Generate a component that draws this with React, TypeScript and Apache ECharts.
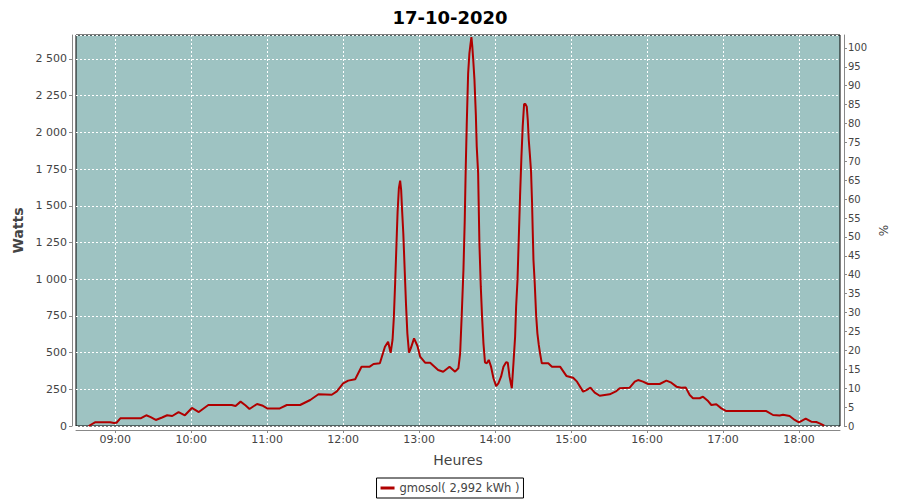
import React, { useEffect, useRef } from "react";
import * as echarts from "echarts";

const chartTitle = "17-10-2020";
const seriesName = "gmosol( 2,992 kWh )";
const xAxisName = "Heures";
const yAxisName = "Watts";
const y2AxisName = "%";

// hour ticks, minutes since midnight (09:00 ... 18:00)
const hourTicks = [540, 600, 660, 720, 780, 840, 900, 960, 1020, 1080];

// sample times (minutes since midnight)
const times = [
  519, 524, 536, 539, 541, 544, 560, 564.5, 568, 572, 577, 581, 585, 590, 595, 600.5, 606, 613.5, 632, 635,
  639, 643, 646, 652, 656, 660, 670, 675.5, 686, 694, 700.5, 711, 715, 720, 724, 729.5, 734.5, 741, 744, 749,
  753, 755.5, 757.5, 759, 760, 761, 762.4, 763, 764, 765, 765.8, 766.6, 767.5, 768.6, 769.6, 770.7, 772, 773.4, 776, 778.7,
  780.8, 784.7, 788.7, 795, 799, 804, 808.4, 811, 812.4, 813.7, 815, 816, 816.8, 817.6, 818.7, 819.7, 820.5, 821.3, 822, 822.9,
  823.7, 824.8, 825.5, 826.6, 827.6, 828.7, 829.7, 830.8, 832, 833.4, 835, 836.8, 838.7, 840.8, 842.6, 844.7, 846.6, 848.7,
  850, 851.4, 853.2, 854.5, 855.8, 856.6, 857.7, 858.7, 859.7, 860.8, 861.8, 862.9, 863.9, 865, 865.8, 866.6, 867.4, 868.4,
  869.2, 869.7, 870.3, 871.3, 872.4, 873.4, 874.5, 875.5, 876.9, 882, 884.9, 891.3, 896.3, 901.6, 904.7, 909.5, 912.1, 915.3,
  918.7, 922.6, 930.5, 935.8, 938.4, 946.3, 950.3, 952.9, 956.8, 960.8, 970, 975.3, 979.2, 983.2, 987.1, 990.5, 993.7, 996.3,
  1001.6, 1004.2, 1008.2, 1010.8, 1014.7, 1018.7, 1022.6, 1054.2, 1059.5, 1064.7, 1067.4, 1072.6, 1076.6, 1080, 1085.3, 1089.7,
  1093.7, 1096.3, 1100,
];

// power in watts
const watts = [
  0, 25, 25, 20, 22, 52, 52, 73, 60, 41, 58, 73, 68, 95, 73, 123, 95, 143, 143, 136,
  166, 140, 116, 150, 140, 120, 120, 143, 143, 177, 216, 213, 236, 291, 309, 318, 404, 404, 422, 427,
  540, 574, 499, 586, 734, 960, 1313, 1460, 1619, 1671, 1608, 1460, 1313, 1063, 836, 631, 499, 529, 597, 545,
  472, 431, 431, 381, 370, 404, 370, 393, 495, 768, 1063, 1392, 1755, 2050, 2402, 2538, 2595, 2648, 2585, 2471,
  2357, 2119, 1903, 1721, 1245, 949, 745, 563, 434, 427, 450, 404, 325, 272, 291, 336, 404, 434,
  431, 336, 257, 427, 608, 813, 994, 1279, 1562, 1835, 2039, 2193, 2193, 2175, 2084, 1948, 1857, 1732,
  1517, 1335, 1131, 972, 756, 631, 552, 495, 427, 427, 404, 404, 341, 329, 302, 234, 245, 261,
  227, 206, 216, 238, 257, 261, 302, 313, 302, 286, 286, 309, 295, 268, 261, 263, 211, 189,
  189, 200, 170, 143, 148, 120, 102, 102, 75, 72, 77, 68, 41, 25, 50, 29,
  27, 18, 2,
];

const fmtThousands = (v: number) =>
  String(Math.round(v)).replace(/\B(?=(\d{3})+(?!\d))/g, " ");
const fmtTime = (m: number) => {
  const h = Math.floor(m / 60);
  const mm = Math.round(m - h * 60);
  return `${String(h).padStart(2, "0")}:${String(mm).padStart(2, "0")}`;
};

export default function App() {
  const ref = useRef<HTMLDivElement>(null);
  useEffect(() => {
    const chart = echarts.init(ref.current!, null, { renderer: "svg" });
    const axisGray = "#888";
    const labelColor = "#444";
    chart.setOption({
      animation: false,
      backgroundColor: "#fff",
      textStyle: { fontFamily: "DejaVu Sans" },
      title: {
        text: chartTitle,
        left: "center",
        top: 3,
        textStyle: { fontSize: 18, fontWeight: "bold", color: "#000", fontFamily: "DejaVu Sans" },
      },
      legend: {
        bottom: 2,
        left: "center",
        data: [seriesName],
        icon: "rect",
        itemWidth: 14,
        itemHeight: 3,
        itemGap: 4,
        borderColor: "#000",
        borderWidth: 1,
        borderRadius: 0,
        padding: [4, 4, 4, 4],
        textStyle: { fontSize: 11.5, color: "#444" },
      },
      grid: {
        left: 76,
        right: 60,
        top: 35,
        bottom: 74,
        show: true,
        backgroundColor: "#9ec3c2",
        borderColor: "#000",
        borderWidth: 1,
      },
      xAxis: {
        type: "value",
        min: 509,
        max: 1112.4,
        offset: 4,
        name: xAxisName,
        nameLocation: "middle",
        nameGap: 23,
        nameTextStyle: { fontSize: 14, color: labelColor },
        axisLine: { show: true, onZero: false, lineStyle: { color: axisGray } },
        axisTick: { show: true, length: 3, customValues: hourTicks, lineStyle: { color: axisGray } },
        axisLabel: { customValues: hourTicks, formatter: fmtTime, fontSize: 11, color: labelColor, margin: 4 },
        splitLine: { show: true, lineStyle: { color: "#fff", type: [2, 2], width: 1 } },
      },
      yAxis: [
        {
          type: "value",
          position: "left",
          min: 0,
          max: 2663,
          interval: 250,
          offset: 4,
          name: yAxisName,
          nameLocation: "middle",
          nameGap: 40,
          nameRotate: 90,
          nameTextStyle: { fontSize: 14, fontWeight: "bold", color: labelColor },
          axisLine: { show: true, lineStyle: { color: axisGray } },
          axisTick: { show: true, length: 3, lineStyle: { color: axisGray } },
          axisLabel: {
            fontSize: 11,
            color: labelColor,
            margin: 5,
            showMaxLabel: false,
            formatter: (v: number) => (v % 250 === 0 ? fmtThousands(v) : ""),
          },
          splitLine: { show: true, lineStyle: { color: "#fff", type: [2, 2], width: 1 } },
        },
        {
          type: "value",
          position: "right",
          min: 0,
          max: 103.4,
          interval: 5,
          offset: 4,
          name: y2AxisName,
          nameLocation: "middle",
          nameGap: 30,
          nameRotate: 90,
          nameTextStyle: { fontSize: 12, color: labelColor },
          axisLine: { show: true, lineStyle: { color: axisGray } },
          axisTick: { show: true, length: 3, lineStyle: { color: axisGray } },
          axisLabel: {
            fontSize: 10,
            color: labelColor,
            margin: 4,
            showMaxLabel: false,
            formatter: (v: number) => (Number.isInteger(v) && v % 5 === 0 ? String(v) : ""),
          },
          splitLine: { show: false },
        },
      ],
      series: [
        {
          type: "line",
          name: seriesName,
          yAxisIndex: 0,
          data: times.map((t, i) => [t, watts[i]]),
          symbol: "none",
          showSymbol: false,
          lineStyle: { color: "#b00000", width: 2 },
          itemStyle: { color: "#b00000" },
        },
      ],
    });
    return () => chart.dispose();
  }, []);
  return <div ref={ref} style={{ position: "absolute", left: 0, top: 0, width: 900, height: 500 }} />;
}
